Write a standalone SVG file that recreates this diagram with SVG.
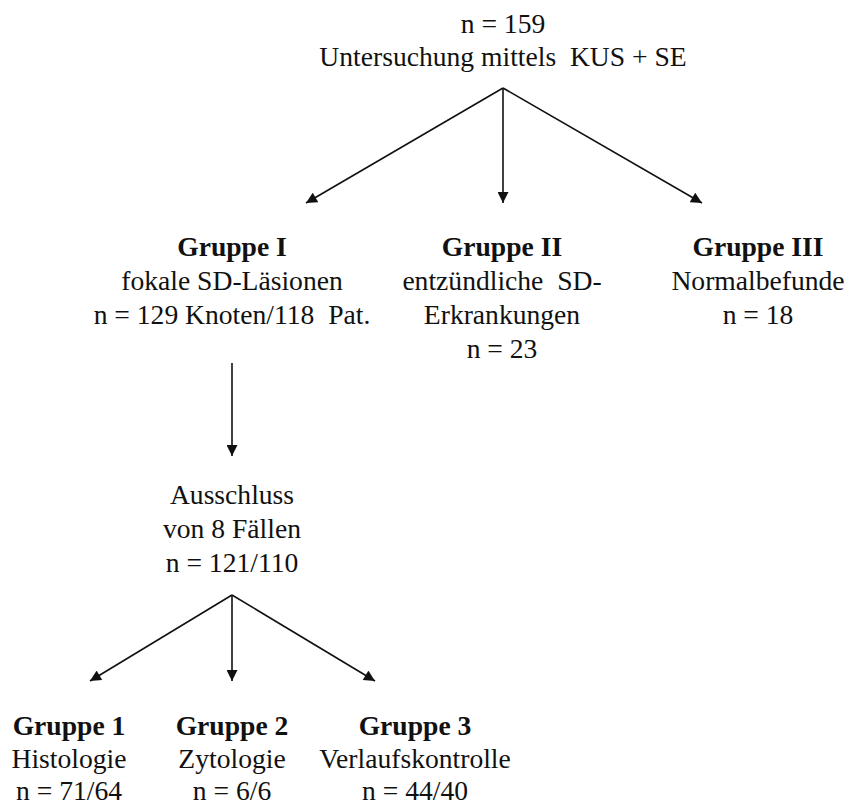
<svg xmlns="http://www.w3.org/2000/svg" width="851" height="807" viewBox="0 0 851 807">
<defs>
<style>
text{font-family:"Liberation Serif",Tinos,"Times New Roman",Times,serif;font-size:27.6px;fill:#111;text-anchor:middle}
.b{font-weight:bold}
.c{stroke:#111;stroke-width:1.6;fill:none}
</style>
<marker id="ah" viewBox="0 0 10 10" refX="10" refY="5" markerWidth="12" markerHeight="11" orient="auto" markerUnits="userSpaceOnUse">
<path d="M0,0 L10,5 L0,10 Z" fill="#111"/>
</marker>
</defs>
<rect width="851" height="807" fill="#fff"/>
<g id="root">
<text x="503" y="33">n = 159</text>
<text x="503" y="66">Untersuchung mittels&#160; KUS + SE</text>
</g>
<g id="g1">
<text class="b" x="232" y="256">Gruppe I</text>
<text x="232" y="290">fokale SD-Läsionen</text>
<text x="232" y="324">n = 129 Knoten/118&#160; Pat.</text>
</g>
<g id="g2">
<text class="b" x="502" y="256">Gruppe II</text>
<text x="502" y="290">entzündliche&#160; SD-</text>
<text x="502" y="324">Erkrankungen</text>
<text x="502" y="358">n = 23</text>
</g>
<g id="g3">
<text class="b" x="758" y="256">Gruppe III</text>
<text x="758" y="290">Normalbefunde</text>
<text x="758" y="324">n = 18</text>
</g>
<g id="excl">
<text x="232" y="504">Ausschluss</text>
<text x="232" y="538">von 8 Fällen</text>
<text x="232" y="572">n = 121/110</text>
</g>
<g id="s1">
<text class="b" x="69" y="735">Gruppe 1</text>
<text x="69" y="768">Histologie</text>
<text x="69" y="800">n = 71/64</text>
</g>
<g id="s2">
<text class="b" x="232" y="735">Gruppe 2</text>
<text x="232" y="768">Zytologie</text>
<text x="232" y="800">n = 6/6</text>
</g>
<g id="s3">
<text class="b" x="415" y="735">Gruppe 3</text>
<text x="415" y="768">Verlaufskontrolle</text>
<text x="415" y="800">n = 44/40</text>
</g>
<g id="connectors" class="c">
<line class="c" x1="503" y1="88" x2="306" y2="203" marker-end="url(#ah)"/>
<line class="c" x1="503" y1="88" x2="503" y2="203" marker-end="url(#ah)"/>
<line class="c" x1="503" y1="88" x2="702" y2="203" marker-end="url(#ah)"/>
<line class="c" x1="232" y1="363" x2="232" y2="456" marker-end="url(#ah)"/>
<line class="c" x1="232" y1="595" x2="90" y2="681" marker-end="url(#ah)"/>
<line class="c" x1="232" y1="595" x2="232" y2="681" marker-end="url(#ah)"/>
<line class="c" x1="232" y1="595" x2="375" y2="681" marker-end="url(#ah)"/>
</g>
</svg>
